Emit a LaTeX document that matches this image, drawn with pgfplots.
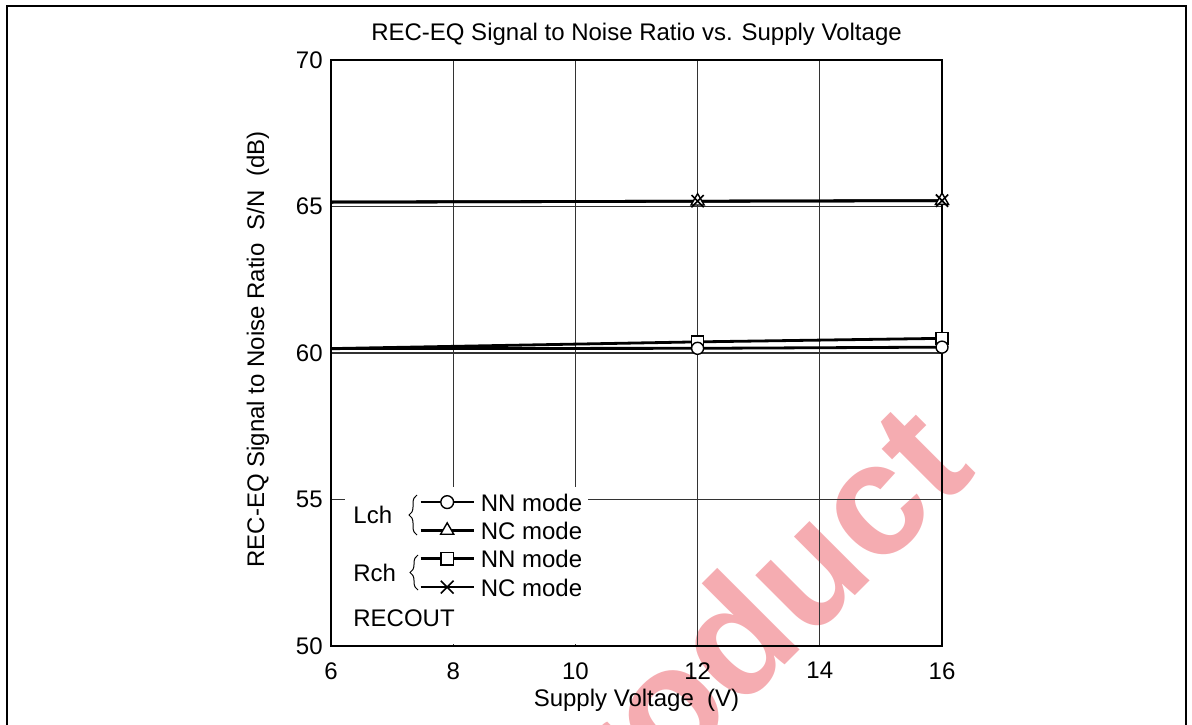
\documentclass[border=0pt]{standalone}
\usepackage{fontspec}
\setmainfont{Liberation Sans}
\usepackage{pgfplots}
\pgfplotsset{compat=1.18}
\usetikzlibrary{decorations.pathreplacing}
\definecolor{wm}{RGB}{245,172,177}
\begin{document}
\fontsize{12}{14}\selectfont
\begin{tikzpicture}
\useasboundingbox (0,0) rectangle (596pt,362pt);
% watermark and frame, in pixel units (x, 724-y)
\begin{scope}[x=0.5pt,y=0.5pt]
\node[rotate=45, text=wm, font=\fontsize{80}{80}\selectfont\bfseries, inner sep=0pt] at (738,70) {product};
\draw[line width=1.1pt] (7,-5) -- (7,718) -- (1186,718) -- (1186,-5);
\end{scope}
\begin{axis}[
  at={(165.5pt,39pt)}, anchor=south west,
  width=305.5pt, height=293pt, scale only axis,
  xmin=6, xmax=16, ymin=50, ymax=70,
  xtick={6,8,10,12,14,16}, ytick={50,55,60,65,70},
  grid=major,
  major grid style={line width=0.55pt, black!80},
  axis line style={line width=0.85pt},
  major tick length=0pt,
  /pgf/number format/assume math mode=true,
  tick label style={font=\fontsize{12}{14}\selectfont},
  xticklabel style={yshift=-4pt},
  title={REC-EQ Signal to Noise Ratio vs. Supply Voltage},
  title style={at={(axis description cs:0.5,1)}, anchor=center, yshift=7pt, font=\fontsize{12}{14}\selectfont},
  xlabel={Supply Voltage~~(V)},
  xlabel style={at={(axis description cs:0.5,-0.0921)}, anchor=center, font=\fontsize{12}{14}\selectfont},
  ylabel={REC-EQ Signal to Noise Ratio~~S/N~~(dB)},
  ylabel style={at={(axis description cs:-0.1195,0.506)}, anchor=center, font=\fontsize{12}{14}\selectfont},
  legend cell align=left,
  legend style={at={(axis cs:7.44,55.232)}, anchor=north west, draw=none, fill=none,
     inner sep=0pt, row sep=5.17pt, column sep=2.9pt,
     nodes={inner sep=0pt, text height=9pt, text depth=0pt},
     font=\fontsize{12}{14}\selectfont},
  legend image code/.code={\draw[mark repeat=2,mark phase=2,#1] plot coordinates {(0pt,0pt) (13.25pt,0pt) (26.5pt,0pt)};},
]
% white box behind the legend
\fill[white] (axis cs:6.23,55.43) rectangle (axis cs:10.21,50.08);

% Rch NN mode (square)
\addplot[forget plot, black, line width=1.4pt, mark=square*, mark size=3pt, mark indices={2,3},
  mark options={fill=white, line width=0.7pt}]
  coordinates {(6,60.15) (12,60.38) (16,60.5)};
% Lch NN mode (circle)
\addplot[forget plot, black, line width=1.4pt, mark=*, mark size=3pt, mark indices={2,3},
  mark options={fill=white, line width=0.7pt}]
  coordinates {(6,60.15) (12,60.16) (16,60.2)};
% Lch NC mode (triangle)
\addplot[forget plot, black, line width=1.4pt, mark=triangle*, mark size=3.8pt, mark indices={2,3},
  mark options={fill=white, line width=0.7pt}]
  coordinates {(6,65.15) (12,65.18) (16,65.2)};
% Rch NC mode (cross)
\addplot[forget plot, black, line width=1.4pt, mark=x, mark size=4.3pt, mark indices={2,3},
  mark options={line width=0.8pt}]
  coordinates {(6,65.15) (12,65.18) (16,65.2)};

\addlegendimage{black, line width=1.3pt, mark=*, mark size=3.2pt, mark options={fill=white, line width=0.7pt}}
\addlegendentry{NN mode}
\addlegendimage{black, line width=1.3pt, mark=triangle*, mark size=3.8pt, mark options={fill=white, line width=0.7pt}}
\addlegendentry{NC mode}
\addlegendimage{black, line width=1.3pt, mark=square*, mark size=3.1pt, mark options={fill=white, line width=0.7pt}}
\addlegendentry{NN mode}
\addlegendimage{black, line width=1.3pt, mark=x, mark size=4.5pt, mark options={line width=0.8pt}}
\addlegendentry{NC mode}
\end{axis}
\begin{scope}[x=0.5pt,y=0.5pt]
\node[anchor=base west, inner sep=0pt] at (353,200.7) {Lch};
\node[anchor=base west, inner sep=0pt] at (353,142.3) {Rch};
\node[anchor=base west, inner sep=0pt] at (353,97.3) {RECOUT};
\draw[line width=0.5pt, decorate, decoration={brace, amplitude=4pt}] (417,189) -- (417,229);
\draw[line width=0.5pt, decorate, decoration={brace, amplitude=4pt}] (418,134) -- (418,169);
\end{scope}
\end{tikzpicture}
\end{document}
